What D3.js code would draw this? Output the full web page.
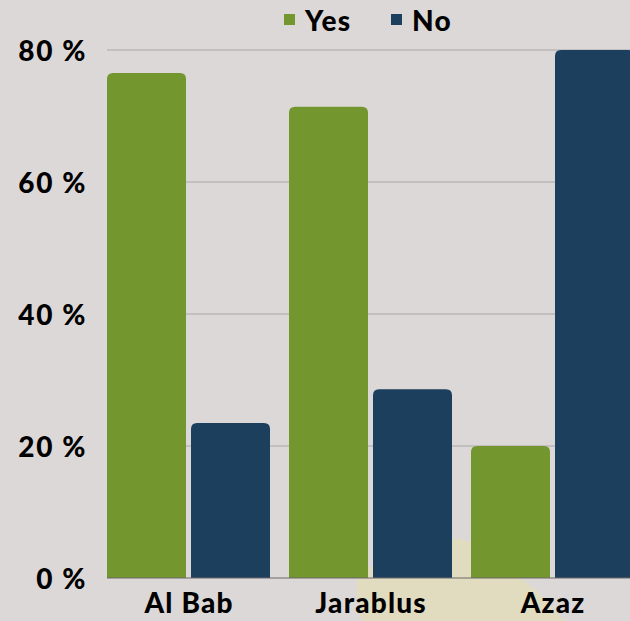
<!DOCTYPE html>
<html>
<head>
<meta charset="utf-8">
<script src="https://cdn.jsdelivr.net/npm/d3@7"></script>
<style>
  html, body { margin: 0; padding: 0; background: #dcd8d7; }
  svg { display: block; }
  text { font-family: Lato, "Open Sans", sans-serif; font-weight: 900; fill: #000; letter-spacing: 1.2px; }
</style>
</head>
<body>
<svg id="chart" width="630" height="621"></svg>
<script>
// Share of respondents answering Yes / No, by town
const towns = ["Al Bab", "Jarablus", "Azaz"];
const answers = ["Yes", "No"];
const yesValues = [76.5, 71.4, 20.0];
const noValues = [23.5, 28.6, 80.0];
const yTicks = [0, 20, 40, 60, 80];
const colors = ["#74962f", "#1c3f5e"];

const rows = towns.map((t, i) => ({ town: t, values: [yesValues[i], noValues[i]] }));

const W = 630, H = 621;
const svg = d3.select("#chart");

const y = d3.scaleLinear().domain([0, 80]).range([578, 50]);
const x0 = d3.scaleBand().domain(towns).range([97.5, 643.5])
  .paddingInner(19 / 182).paddingOuter(19 / 364);
const x1 = d3.scaleBand().domain(answers).range([0, x0.bandwidth()])
  .paddingInner(5 / 84).paddingOuter(0);

// decorative backdrop shape near the bottom
const blob = [[378, 645], [358, 600], [360, 574], [400, 556], [446, 540], [464, 540],
              [528, 584], [554, 610], [578, 645]];
svg.append("path")
  .attr("d", d3.line().curve(d3.curveCatmullRomClosed.alpha(0.5))(blob))
  .attr("fill", "#e1dcbf");

// gridlines
svg.append("g").selectAll("line").data(yTicks.filter(d => d > 0)).join("line")
  .attr("x1", 107).attr("x2", W)
  .attr("y1", d => y(d)).attr("y2", d => y(d))
  .attr("stroke", "#a9a6a5").attr("stroke-width", 1);

// bars with rounded tops
function topRounded(x, yTop, w, yBase, r) {
  r = Math.min(r, (yBase - yTop), w / 2);
  return `M${x},${yBase}V${yTop + r}Q${x},${yTop} ${x + r},${yTop}H${x + w - r}` +
         `Q${x + w},${yTop} ${x + w},${yTop + r}V${yBase}Z`;
}
const groups = svg.append("g").selectAll("g").data(rows).join("g")
  .attr("transform", d => `translate(${x0(d.town)},0)`);
groups.selectAll("path").data(d => d.values.map((v, i) => ({ key: answers[i], v, i }))).join("path")
  .attr("d", d => topRounded(x1(d.key), y(d.v), x1.bandwidth(), y(0), 6))
  .attr("fill", d => colors[d.i]);

// baseline
svg.append("line").attr("x1", 107).attr("x2", W).attr("y1", y(0)).attr("y2", y(0))
  .attr("stroke", "#6b6968").attr("stroke-width", 1.2);

// y axis labels
const yAxis = d3.axisLeft(y).tickValues(yTicks).tickSize(0).tickFormat(d => d + " %");
const ya = svg.append("g").attr("transform", "translate(87,0)").call(yAxis);
ya.select(".domain").remove();
ya.selectAll("text").attr("font-size", 28).attr("dy", "0.36em").attr("x", 0)
  .style("font-family", "Lato, sans-serif").style("font-weight", 900)
  .style("letter-spacing", "1.6px").attr("fill", "#000");

// x axis labels
const xAxis = d3.axisBottom(x0).tickSize(0);
const xa = svg.append("g").attr("transform", `translate(0,${y(0)})`).call(xAxis);
xa.select(".domain").remove();
xa.selectAll("text").attr("font-size", 28).attr("dy", 0).attr("y", 35).attr("x", 0.6)
  .style("font-family", "Lato, sans-serif").style("font-weight", 900)
  .style("letter-spacing", "1.2px").attr("fill", "#000");

// legend
const legendX = [284, 391];
const lg = svg.append("g").selectAll("g").data(answers).join("g")
  .attr("transform", (d, i) => `translate(${legendX[i]},0)`);
lg.append("rect").attr("x", 0).attr("y", 14).attr("width", 11).attr("height", 11)
  .attr("fill", (d, i) => colors[i]);
lg.append("text").attr("x", 21).attr("y", 31).attr("font-size", 28).text(d => d);
</script>
</body>
</html>
